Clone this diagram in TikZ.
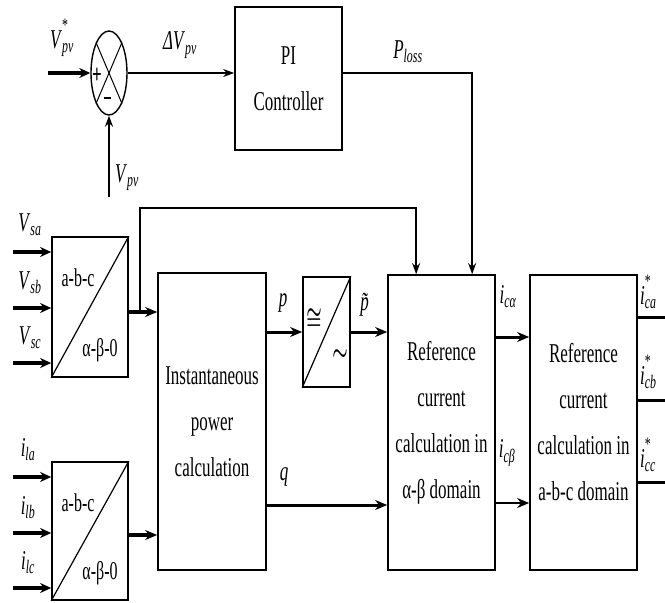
\documentclass[tikz,border=0pt]{standalone}
\usepackage{fontspec}
\setmainfont{Liberation Serif}
\usepackage{amsmath}
\usepackage{graphicx}
\usetikzlibrary{arrows.meta,shapes.geometric,calc,positioning}

% tall lettering, signal names
\newcommand{\tall}[1]{\scalebox{1}[1.6]{#1}}
\newcommand{\sig}[3]{\tall{\textit{#1}\rlap{\raisebox{4pt}{\textsuperscript{#3}}}\textsubscript{\textit{#2}}}}

\tikzset{
  blk/.style = {draw, line width=1.7pt, inner sep=0pt, align=center,
                font=\fontsize{17}{46}\selectfont},
  sumnode/.style = {draw, ellipse, line width=1.4pt, inner sep=0pt,
                minimum width=36pt, minimum height=84pt},
  lbl/.style = {inner sep=0pt, font=\fontsize{17}{20}\selectfont},
  small/.style = {inner sep=0pt, font=\fontsize{16}{18}\selectfont},
  arr/.style = {line width=1.7pt, -{Stealth[length=11pt, width=8pt]}},
  arrbig/.style = {line width=3pt, -{Stealth[length=12pt, width=10pt]}},
  arrin/.style = {line width=3.5pt, -{Stealth[length=11pt, width=10pt]}}
}

\begin{document}
\begin{tikzpicture}[x=1pt, y=-1pt]
  \useasboundingbox (0,0) rectangle (665,603);
  \clip (0,0) rectangle (665,603);

  % blocks
  \node[sumnode](sum)at(109,73){};
  \node[blk, minimum width=107pt, minimum height=143pt](pi)at(288.5,78.5)
       {\tall{PI}\\\tall{Controller}};
  \node[blk, minimum width=76pt, minimum height=140pt](abc1)at(90,307){};
  \node[blk, minimum width=76pt, minimum height=138pt](abc2)at(90,531){};
  \node[blk, minimum width=108pt, minimum height=297pt](inst)at(212,421.5)
       {\tall{Instantaneous}\\\tall{power}\\\tall{calculation}};
  \node[blk, minimum width=47pt, minimum height=110pt](filt)at(326.5,332){};
  \node[blk, minimum width=107pt, minimum height=295pt](refab)at(441.5,422.5)
       {\tall{Reference}\\\tall{current}\\\tall{calculation in}\\\tall{α-β domain}};
  \node[blk, minimum width=107pt, minimum height=295pt](refabc)at(583.5,422.5)
       {\tall{Reference}\\\tall{current}\\\tall{calculation in}\\\tall{a-b-c domain}};

  % insides of the small blocks
  \path[draw, line width=1pt](sum.67)to(sum.247);
  \path[draw, line width=1pt](sum.113)to(sum.293);
  \node[inner sep=0pt, font=\fontsize{17}{18}\selectfont\bfseries](plus)at(97,76){\tall{+}};
  \node[inner sep=0pt](minus)at(107,98){\rule{7pt}{2.5pt}};
  \path[draw, line width=1.2pt](abc1.south west)to(abc1.north east);
  \path[draw, line width=1.2pt](abc2.south west)to(abc2.north east);
  \node[small](t1)at(78,278){\tall{a-b-c}};
  \node[small](b1)at(100,350){\tall{α-β-0}};
  \node[small](t2)at(78,503){\tall{a-b-c}};
  \node[small](b2)at(100,573){\tall{α-β-0}};
  \path[draw, line width=1.2pt](filt.south west)to(filt.north east);
  \node[lbl](fh)at(314,319){\tall{$\boldsymbol{\cong}$}};
  \node[lbl](fl)at(340,355){\tall{$\boldsymbol{\sim}$}};

  % labels
  \node[lbl](vref)at(62,38){\sig{V}{pv}{*}};
  \node[lbl](dv)at(180,45){\tall{\textit{ΔV}\textsubscript{\textit{pv}}}};
  \node[lbl](vpv)at(127,178){\sig{V}{pv}{}};
  \node[lbl](ploss)at(408,52){\sig{P}{loss}{}};
  \node[lbl](vsa)at(30,225){\sig{V}{sa}{}};
  \node[lbl](vsb)at(30,283){\sig{V}{sb}{}};
  \node[lbl](vsc)at(30,338){\sig{V}{sc}{}};
  \node[lbl](ila)at(28,450){\sig{i}{la}{}};
  \node[lbl](ilb)at(28,508){\sig{i}{lb}{}};
  \node[lbl](ilc)at(28,563){\sig{i}{lc}{}};
  \node[lbl](p)at(283,303){\tall{\textit{p}}};
  \node[lbl](pt)at(368,305){\tall{\textit{\~{p}}}};
  \node[lbl](q)at(284,477){\tall{\textit{q}}};
  \node[lbl](ica)at(508,297){\sig{i}{cα}{}};
  \node[lbl](icb)at(507,453){\sig{i}{cβ}{}};
  \node[lbl, anchor=west](oa)at(640,292){\sig{i}{ca}{*}};
  \node[lbl, anchor=west](ob)at(640,372){\sig{i}{cb}{*}};
  \node[lbl, anchor=west](oc)at(640,455){\sig{i}{cc}{*}};

  % free ends
  \coordinate(vin)at(48,73);
  \coordinate(vfb)at(109,197);
  \coordinate(sa)at(13,252);
  \coordinate(sb)at(13,308);
  \coordinate(sc)at(13,363);
  \coordinate(la)at(13,477);
  \coordinate(lb)at(13,533);
  \coordinate(lc)at(13,588);
  \coordinate(br)at(140,312);
  \coordinate(fb)at(140,208);
  \coordinate(o2)at(128,535);
  \coordinate(in1)at([xshift=29pt]refab.north west);
  \coordinate(in2)at([xshift=85pt]refab.north west);
  \coordinate(qy)at(266,505);
  \coordinate(ay)at(495,337);
  \coordinate(by)at(495,503);
  \coordinate(ra)at(690,317);
  \coordinate(rb)at(690,400);
  \coordinate(rc)at(690,482);

  % connections
  \path[draw, arrin](vin)to(sum.west);
  \path[draw, arr](vfb)to(sum.south);
  \path[draw, arr](sum.east)to(pi.west |- sum.east);
  \path[draw, arr](pi.east |- sum.east)-|(in2);
  \path[draw, arrin](sa)to(abc1.west |- sa);
  \path[draw, arrin](sb)to(abc1.west |- sb);
  \path[draw, arrin](sc)to(abc1.west |- sc);
  \path[draw, arrin](la)to(abc2.west |- la);
  \path[draw, arrin](lb)to(abc2.west |- lb);
  \path[draw, arrin](lc)to(abc2.west |- lc);
  \path[draw, arrbig, line width=4pt](abc1.east |- br)to(inst.west |- br);
  \path[draw, arrbig, line width=4pt](o2)to(inst.west |- o2);
  \path[draw, arr](br)to(fb)-|(in1);
  \path[draw, arrbig](inst.east |- filt.west)to(filt.west);
  \path[draw, arrbig](filt.east)to(refab.west |- filt.east);
  \path[draw, arrbig](qy)to(refab.west |- qy);
  \path[draw, arrbig](ay)to(refabc.west |- ay);
  \path[draw, arrbig, line width=2.4pt](by)to(refabc.west |- by);
  \path[draw, arrbig](refabc.east |- ra)to(ra);
  \path[draw, arrbig](refabc.east |- rb)to(rb);
  \path[draw, arrbig](refabc.east |- rc)to(rc);
\end{tikzpicture}
\end{document}
